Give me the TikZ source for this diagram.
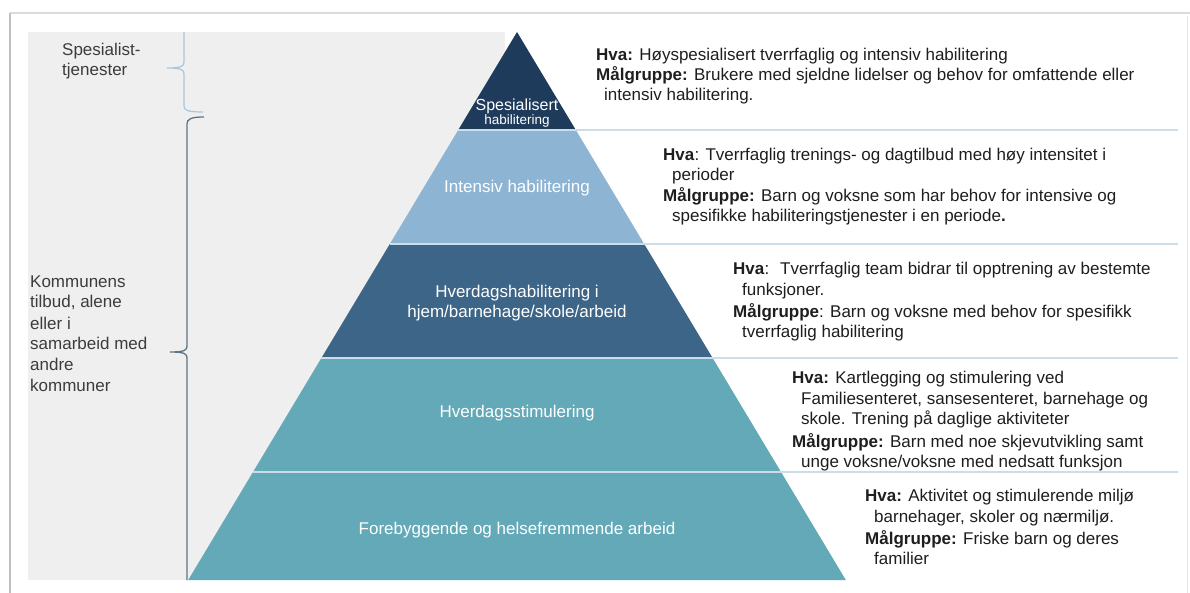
\documentclass[tikz,border=0pt]{standalone}
\usepackage{fontspec}
\setmainfont{Liberation Sans}
\definecolor{navy}{HTML}{1F3B5B}
\definecolor{sky}{HTML}{8DB4D3}
\definecolor{steel}{HTML}{3D6587}
\definecolor{teal}{HTML}{63A9B7}
\definecolor{panel}{HTML}{EFEFEF}
\definecolor{sepline}{HTML}{CADDE8}
\definecolor{bodytext}{HTML}{1E1E1E}
\definecolor{sidetext}{HTML}{3C3C3C}
\definecolor{bracelight}{HTML}{A9C6DD}
\definecolor{bracedark}{HTML}{5F7483}
\begin{document}
\begin{tikzpicture}[x=1pt,y=-1pt,
  tierlabel/.style={text=white, inner sep=0pt, font=\fontsize{17}{20}\selectfont},
  info/.style={anchor=base west, inner sep=0pt, text=bodytext, font=\fontsize{17}{20}\selectfont},
  side/.style={anchor=base west, inner sep=0pt, text=sidetext, font=\fontsize{17}{20}\selectfont},
  sep/.style={draw=sepline, line width=2pt},
]
\useasboundingbox (0,0) rectangle (1190,593);
\fill[white] (0,0) rectangle (1190,593);

% page edges
\draw[draw=black!14, line width=1.5pt] (10,13) -- (1190,13);
\draw[draw=black!25, line width=2.5pt] (10,13) -- (10,593);
\draw[draw=black!10, line width=1pt] (1187,16) -- (1187,593);

% grey panel behind the left part
\fill[panel] (28,32) rectangle (505,580);

% pyramid tiers
\fill[navy]  (517,32) -- (575.8,130) -- (458.2,130) -- cycle;
\fill[sky]   (458.2,130) -- (575.8,130) -- (644.2,244) -- (389.8,244) -- cycle;
\fill[steel] (389.8,244) -- (644.2,244) -- (712.6,358) -- (321.4,358) -- cycle;
\fill[teal]  (321.4,358) -- (712.6,358) -- (781,472) -- (253,472) -- cycle;
\fill[teal]  (253,472) -- (781,472) -- (845.8,580) -- (188.2,580) -- cycle;

% tier separators running out to the right
\coordinate (s1) at (458.2,130); \coordinate (e1) at (1178,130);
\coordinate (s2) at (389.8,244); \coordinate (e2) at (1178,244);
\coordinate (s3) at (321.4,358); \coordinate (e3) at (1178,358);
\coordinate (s4) at (253,472);   \coordinate (e4) at (1178,472);
\draw[sep] (s1) -- (e1);
\draw[sep] (s2) -- (e2);
\draw[sep] (s3) -- (e3);
\draw[sep] (s4) -- (e4);

% braces
\draw[bracelight, line width=1.2pt]
  (184,32) -- (184,62) .. controls (184,66) and (182,68) .. (167,68)
  .. controls (182,68) and (184,70) .. (184,74) -- (184,106)
  .. controls (184,110) and (187,112) .. (203,112);
\draw[bracedark, line width=1.3pt]
  (204,117) .. controls (191,117) and (187,119) .. (187,124) -- (187,346)
  .. controls (187,350) and (185,352) .. (170,352)
  .. controls (185,352) and (187,354) .. (187,358) -- (187,580);

% left-hand labels
\node[side] (sp1) at (62,56) {Spesialist-};
\node[side] (sp2) at (62,76) {tjenester};
\node[side] (k1) at (30,288) {Kommunens};
\node[side] (k2) at (30,308) {tilbud, alene};
\node[side] (k3) at (30,329) {eller i};
\node[side] (k4) at (30,349) {samarbeid med};
\node[side] (k5) at (30,370) {andre};
\node[side] (k6) at (30,391) {kommuner};

% tier labels
\node[tierlabel, font=\fontsize{16}{18}\selectfont] (t1a) at (517,106) {Spesialisert};
\node[tierlabel, font=\fontsize{13.5}{15}\selectfont] (t1b) at (517,121) {habilitering};
\node[tierlabel] (t2) at (517,188) {Intensiv habilitering};
\node[tierlabel] (t3a) at (517,293) {Hverdagshabilitering i};
\node[tierlabel] (t3b) at (517,313) {hjem/barnehage/skole/arbeid};
\node[tierlabel] (t4) at (517,413) {Hverdagsstimulering};
\node[tierlabel] (t5) at (517,530) {Forebyggende og helsefremmende arbeid};

% descriptions
\node[info] (d1a) at (596,61) {\textbf{Hva:} Høyspesialisert tverrfaglig og intensiv habilitering};
\node[info] (d1b) at (596,81) {\textbf{Målgruppe:} Brukere med sjeldne lidelser og behov for omfattende eller};
\node[info] (d1c) at (604,101) {intensiv habilitering.};

\node[info] (d2a) at (663,161) {\textbf{Hva}: Tverrfaglig trenings- og dagtilbud med høy intensitet i};
\node[info] (d2b) at (672,181) {perioder};
\node[info] (d2c) at (663,202) {\textbf{Målgruppe:} Barn og voksne som har behov for intensive og};
\node[info] (d2d) at (672,222) {spesifikke habiliteringstjenester i en periode\textbf{.}};

\node[info] (d3a) at (733,275) {\textbf{Hva}: \ Tverrfaglig team bidrar til opptrening av bestemte};
\node[info] (d3b) at (742,296) {funksjoner.};
\node[info] (d3c) at (733,317) {\textbf{Målgruppe}: Barn og voksne med behov for spesifikk};
\node[info] (d3d) at (742,337) {tverrfaglig habilitering};

\node[info] (d4a) at (792,383) {\textbf{Hva:} Kartlegging og stimulering ved};
\node[info] (d4b) at (801,404) {Familiesenteret, sansesenteret, barnehage og};
\node[info] (d4c) at (801,424) {skole. Trening på daglige aktiviteter};
\node[info] (d4d) at (792,447) {\textbf{Målgruppe:} Barn med noe skjevutvikling samt};
\node[info] (d4e) at (801,467) {unge voksne/voksne med nedsatt funksjon};

\node[info] (d5a) at (865,501) {\textbf{Hva:} Aktivitet og stimulerende miljø};
\node[info] (d5b) at (874,522) {barnehager, skoler og nærmiljø.};
\node[info] (d5c) at (865,544) {\textbf{Målgruppe:} Friske barn og deres};
\node[info] (d5d) at (874,564) {familier};
\end{tikzpicture}
\end{document}
